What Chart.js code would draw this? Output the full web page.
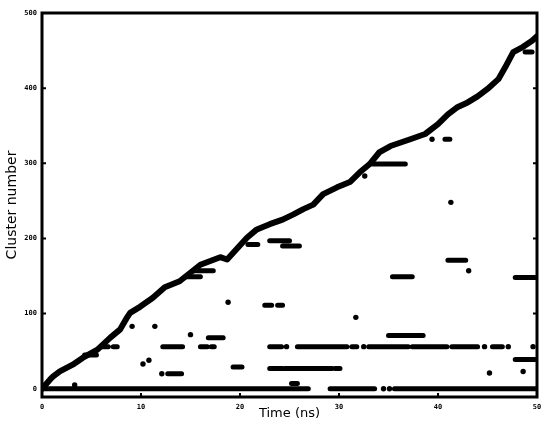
<!DOCTYPE html>
<html>
<head>
<meta charset="utf-8">
<script src="https://cdn.jsdelivr.net/npm/chart.js@4"></script>
<style>
  html, body { margin: 0; padding: 0; background: #fff; }
  canvas { display: block; }
</style>
</head>
<body>
<canvas id="chart" width="550" height="425"></canvas>
<script>
// main growth track (time in ns, cluster number)
const diagT = [0, 0.8, 1.1, 1.8, 3.1, 4.1, 5.6, 6.9, 7.9, 8.6, 8.9, 9.9, 11.2, 12.4, 13.9, 16, 18, 18.7, 20.7, 21.7, 23, 24.3, 25.4, 26.4, 27.4, 28.4, 29.8, 31.1, 32.1, 33.1, 34.1, 35.2, 37.2, 38.7, 40, 41, 42, 43, 44, 45, 46.1, 46.8, 47.6, 48.6, 49.5, 50];
const diagY = [0, 12, 16, 23, 32, 41, 52, 68, 79, 95, 101, 109, 121, 135, 143, 165, 175, 172, 201, 212, 219, 225, 232, 239, 245, 259, 268, 275, 288, 299, 315, 323, 332, 339, 352, 365, 375, 381, 389, 399, 412, 428, 448, 455, 463, 469];

// horizontal runs of repeated cluster ids
const segStart = [0, 29.1, 35.6, 25.2, 12.7, 19.3, 23, 24.5, 29.6, 47.8, 12.2, 16, 17.1, 23, 25.8, 31.3, 33, 37.4, 41.4, 45.5, 5.9, 7.2, 16.8, 35, 22.5, 23.8, 35.4, 47.8, 41, 15.3, 14.6, 20.8, 23, 24.3, 33.4, 40.7, 48.8, 4.3];
const segEnd   = [26.9, 33.6, 50, 25.8, 14.1, 20.2, 24.3, 29.3, 30.1, 49.8, 14.2, 16.7, 17.4, 24.2, 30.8, 31.8, 37, 40.9, 44, 46.5, 6.7, 7.6, 18.3, 38.5, 23.2, 24.3, 37.4, 50, 42.8, 17.3, 16, 21.8, 25, 26, 36.7, 41.2, 49.5, 5.5];
const segY     = [0, 0, 0, 7, 20, 29, 27, 27, 27, 39, 56, 56, 56, 56, 56, 56, 56, 56, 56, 56, 56, 56, 68, 71, 111, 111, 149, 148, 171, 157, 149, 192, 197, 190, 299, 332, 448, 45];

// single visits
const dotT = [3.3, 10.2, 10.8, 9.1, 11.4, 15, 18.8, 31.7, 41.3, 45.2, 48.6, 43.1, 39.4, 32.6, 34.5, 35.1, 24.7, 32.5, 44.7, 47.1, 49.6, 12.1];
const dotY = [5, 33, 38, 83, 83, 72, 115, 95, 248, 21, 23, 157, 332, 283, 0, 0, 56, 56, 56, 56, 56, 20];

const xTicks = [0, 10, 20, 30, 40, 50];
const yTicks = [0, 100, 200, 300, 400, 500];

const segData = [];
segStart.forEach((s, i) => {
  segData.push({ x: s, y: segY[i] });
  segData.push({ x: segEnd[i], y: segY[i] });
  segData.push({ x: segEnd[i], y: null });
});

const frame = {
  id: "frame",
  afterDatasetsDraw(chart) {
    const { ctx, chartArea: a, scales } = chart;
    ctx.save();
    ctx.strokeStyle = "#000";
    ctx.lineWidth = 2;
    ctx.beginPath();
    yTicks.forEach((v) => {
      const py = scales.y.getPixelForValue(v);
      ctx.moveTo(a.left, py); ctx.lineTo(a.left + 4, py);
      ctx.moveTo(a.right, py); ctx.lineTo(a.right - 4, py);
    });
    xTicks.forEach((v) => {
      const px = scales.x.getPixelForValue(v);
      ctx.moveTo(px, a.bottom); ctx.lineTo(px, a.bottom - 4);
    });
    ctx.stroke();
    ctx.lineWidth = 3;
    ctx.strokeRect(a.left, a.top, a.right - a.left, a.bottom - a.top);
    ctx.restore();
  },
};

new Chart(document.getElementById("chart"), {
  type: "scatter",
  data: {
    datasets: [
      {
        data: diagT.map((t, i) => ({ x: t, y: diagY[i] })),
        showLine: true,
        borderColor: "#000",
        backgroundColor: "#000",
        borderWidth: 6,
        borderJoinStyle: "round",
        borderCapStyle: "round",
        pointRadius: 0,
      },
      {
        data: segData,
        showLine: true,
        spanGaps: false,
        borderColor: "#000",
        borderWidth: 5,
        borderCapStyle: "round",
        pointRadius: 0,
      },
      {
        data: dotT.map((t, i) => ({ x: t, y: dotY[i] })),
        backgroundColor: "#000",
        borderColor: "#000",
        pointBorderWidth: 0,
        pointRadius: 2.7,
      },
    ],
  },
  options: {
    responsive: false,
    animation: false,
    layout: { padding: { top: 13, right: 13, left: 0, bottom: 0 } },
    plugins: { legend: { display: false }, tooltip: { enabled: false } },
    scales: {
      x: {
        type: "linear",
        min: 0,
        max: 50,
        afterBuildTicks: (s) => { s.ticks = xTicks.map((v) => ({ value: v })); },
        afterFit: (s) => { s.height = 28; },
        grid: { display: false, drawTicks: false },
        border: { display: false },
        ticks: { padding: 6, color: "#000", font: { family: "DejaVu Sans Mono", size: 7, weight: "bold" } },
        title: { display: true, text: "Time (ns)", color: "#000", font: { family: "DejaVu Sans", size: 13 } },
      },
      y: {
        type: "linear",
        min: -11,
        max: 500,
        afterBuildTicks: (s) => { s.ticks = yTicks.map((v) => ({ value: v })); },
        afterFit: (s) => { s.width = 42; },
        grid: { display: false, drawTicks: false },
        border: { display: false },
        ticks: { padding: 5, color: "#000", font: { family: "DejaVu Sans Mono", size: 7, weight: "bold" } },
        title: { display: true, text: "Cluster number", color: "#000", font: { family: "DejaVu Sans", size: 14 } },
      },
    },
  },
  plugins: [frame],
});
</script>
</body>
</html>
